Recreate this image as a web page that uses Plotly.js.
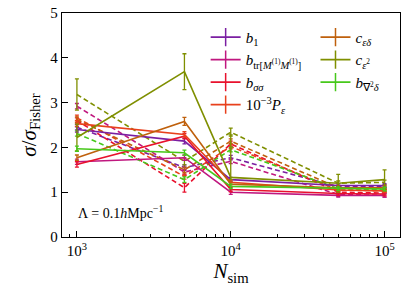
<!DOCTYPE html>
<html><head><meta charset="utf-8">
<script src="https://cdn.plot.ly/plotly-3.0.1.min.js"></script>
<style>html,body{margin:0;padding:0;background:#fff}#chart{width:413px;height:295px}</style>
</head><body><div id="chart"></div>
<script>
const nsim = [1000, 5000, 10000, 50000, 100000];
const xtickvals = [1000, 10000, 100000];
const xticktext = ['10<sup>3</sup>', '10<sup>4</sup>', '10<sup>5</sup>'];
const labels = ['<i>b</i><sub>1</sub>',
  '<i>b</i><sub>tr[<i>M</i><sup>(1)</sup><i>M</i><sup>(1)</sup>]</sub>',
  '<i>b</i><sub><i>σσ</i></sub>',
  '10<sup>−3</sup><i>P</i><sub><i>ε</i></sub>',
  '<i>c</i><sub><i>εδ</i></sub>',
  '<i>c</i><sub><i>ε</i><sup>2</sup></sub>',
  '<i>b</i><sub>∇<sup>2</sup><i>δ</i></sub>'];
const colors = ['#7b1fa2', '#c0177f', '#e8112d', '#e8401c', '#bf600c', '#7f8f00', '#46c81a'];
// solid lines
const b1_solid  = [2.40, 2.14, 1.28, 1.15, 1.15];
const btr_solid = [1.68, 1.77, 1.00, 0.93, 0.93];
const bss_solid = [1.62, 2.25, 1.06, 0.97, 0.96];
const pe_solid  = [2.53, 2.29, 1.22, 1.05, 1.03];
const ced_solid = [1.77, 2.58, 1.18, 1.10, 1.10];
const ce2_solid = [2.22, 3.69, 1.33, 1.20, 1.28];
const bn2_solid = [1.97, 1.88, 1.13, 1.08, 1.07];
// dashed lines
const b1_dash  = [2.45, 1.55, 1.77, 1.12, 1.12];
const btr_dash = [2.92, 1.45, 1.69, 0.95, 0.93];
const bss_dash = [2.60, 1.10, 2.08, 1.00, 0.98];
const pe_dash  = [2.66, 1.35, 2.02, 1.05, 1.03];
const ced_dash = [2.62, 1.50, 2.14, 1.10, 1.08];
const ce2_dash = [3.18, 1.69, 2.34, 1.20, 1.22];
const bn2_dash = [2.31, 1.28, 1.95, 1.08, 1.06];
// error bars (plus / minus)
const err_small = [0.06, 0.06, 0.05, 0.04, 0.04];
const err_ced_solid = [0.06, 0.09, 0.05, 0.04, 0.04];
const err_ce2_solid_plus = [0.30, 0.40, 0.95, 0.20, 0.22];
const err_ce2_solid_minus = [0.30, 0.40, 0.05, 0.20, 0.22];
const err_ce2_dash = [0.35, 0.08, 0.09, 0.05, 0.05];
const err_bss_dash = [0.06, 0.10, 0.06, 0.04, 0.04];

const solids = [b1_solid, btr_solid, bss_solid, pe_solid, ced_solid, ce2_solid, bn2_solid];
const dashes = [b1_dash, btr_dash, bss_dash, pe_dash, ced_dash, ce2_dash, bn2_dash];
const solidErrP = [err_small, err_small, err_small, err_small, err_ced_solid, err_ce2_solid_plus, err_small];
const solidErrM = [err_small, err_small, err_small, err_small, err_ced_solid, err_ce2_solid_minus, err_small];
const dashErr = [err_small, err_small, err_bss_dash, err_small, err_small, err_ce2_dash, err_small];

const traces = [];
for (let i = 0; i < 7; i++) {
  traces.push({x: nsim, y: dashes[i], mode: 'lines', showlegend: false,
    line: {color: colors[i], width: 1.6, dash: '5px,3px'},
    error_y: {type: 'data', array: dashErr[i], color: colors[i], thickness: 1.3, width: 2}});
}
for (let i = 0; i < 7; i++) {
  traces.push({x: nsim, y: solids[i], mode: 'lines', showlegend: false,
    line: {color: colors[i], width: 1.6},
    error_y: {type: 'data', symmetric: false, array: solidErrP[i], arrayminus: solidErrM[i], color: colors[i], thickness: 1.3, width: 2}});
}
for (let i = 0; i < 7; i++) {
  traces.push({x: [null], y: [null], mode: 'lines+markers', name: labels[i],
    legend: i < 4 ? 'legend' : 'legend2',
    line: {color: colors[i], width: 1.6},
    marker: {symbol: 'line-ns-open', size: 13, color: colors[i], line: {width: 1.5, color: colors[i]}}});
}

const font = {family: 'Liberation Serif, Times New Roman, serif', color: '#000'};
const layout = {
  width: 413, height: 295,
  margin: {l: 62, r: 13, t: 13, b: 58},
  paper_bgcolor: '#fff', plot_bgcolor: '#fff',
  font: Object.assign({size: 14}, font),
  xaxis: {type: 'log', range: [Math.log10(800), Math.log10(126000)],
    tickmode: 'array', tickvals: xtickvals, ticktext: xticktext,
    ticks: 'inside', ticklen: 6, tickwidth: 1, tickcolor: '#000',
    minor: {ticks: 'inside', ticklen: 3, tickcolor: '#000',
      tickvals: [900, 2000, 3000, 4000, 5000, 6000, 7000, 8000, 9000, 20000, 30000, 40000, 50000, 60000, 70000, 80000, 90000]},
    showline: true, linecolor: '#000', linewidth: 1.3, mirror: true,
    showgrid: false, zeroline: false,
    tickfont: Object.assign({size: 15}, font),
    title: {text: '<i>N</i><sub>sim</sub>', font: Object.assign({size: 21}, font), standoff: 4}},
  yaxis: {range: [0, 5], tickvals: [0, 1, 2, 3, 4, 5],
    ticks: 'inside', ticklen: 6, tickwidth: 1, tickcolor: '#000',
    showline: true, linecolor: '#000', linewidth: 1.3, mirror: true,
    showgrid: false, zeroline: false,
    tickfont: Object.assign({size: 15}, font),
    title: {text: '<i>σ</i>/<i>σ</i><sub>Fisher</sub>', font: Object.assign({size: 21}, font), standoff: 8}},
  legend: {x: 0.425, y: 0.965, xanchor: 'left', yanchor: 'top', bgcolor: 'rgba(0,0,0,0)',
    font: Object.assign({size: 15}, font), tracegroupgap: 0, itemwidth: 30},
  legend2: {x: 0.75, y: 0.965, xanchor: 'left', yanchor: 'top', bgcolor: 'rgba(0,0,0,0)',
    font: Object.assign({size: 15}, font), tracegroupgap: 0, itemwidth: 30},
  annotations: [{xref: 'paper', yref: 'paper', x: 0.04, y: 0.11, xanchor: 'left', yanchor: 'middle',
    showarrow: false, text: 'Λ = 0.1<i>h</i>Mpc<sup>−1</sup>', font: Object.assign({size: 14}, font)}]
};
Plotly.newPlot('chart', traces, layout, {staticPlot: true, displayModeBar: false});
</script></body></html>
